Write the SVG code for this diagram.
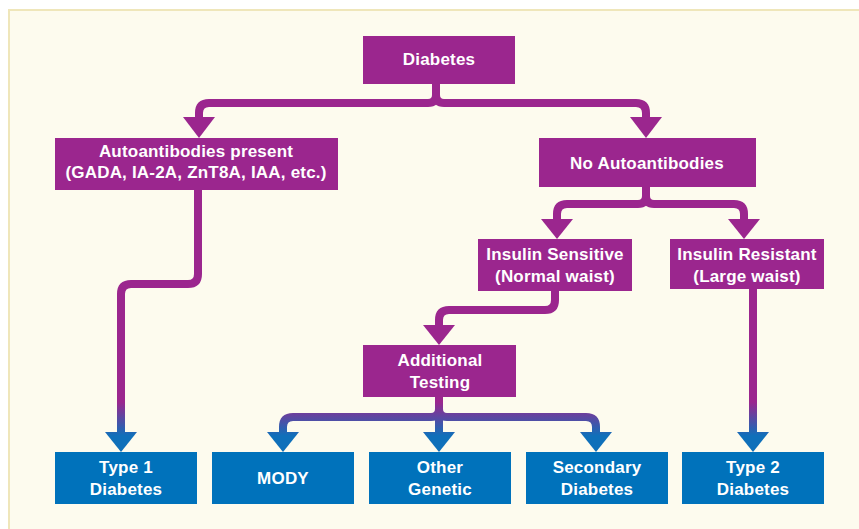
<svg xmlns="http://www.w3.org/2000/svg" width="859" height="529" viewBox="0 0 859 529">
  <defs>
    <linearGradient id="conn" gradientUnits="userSpaceOnUse" x1="0" y1="402" x2="0" y2="436">
      <stop offset="0" stop-color="#9B268E"/>
      <stop offset="1" stop-color="#0F70BA"/>
    </linearGradient>
  </defs>
  <style>
    .bg { fill: #FDFBEE; stroke: #EFE6BA; stroke-width: 2; }
    .p { fill: #9B268E; }
    .b { fill: #0072BB; }
    .t { font-family: "Liberation Sans", Arial, sans-serif; font-weight: bold; font-size: 17px; letter-spacing: 0.2px; fill: #FFFFFF; text-anchor: middle; }
    .ln { fill: none; stroke: url(#conn); stroke-width: 8; stroke-linejoin: round; }
    .ah { fill: url(#conn); }
  </style>
  <rect class="bg" x="9" y="10" width="860" height="530"/>

  <g id="connectors">
    <path class="ln" d="M436,84 V95 Q436,103 428,103 H209 Q199,103 199,113 V119"/>
    <path class="ln" d="M436,84 V95 Q436,103 444,103 H636 Q646,103 646,113 V119"/>
    <polygon class="ah" points="183,117 215,117 199,138"/>
    <polygon class="ah" points="630,117 662,117 646,138"/>

    <path class="ln" d="M198,190 V274 Q198,284 188,284 H131 Q121,284 121,294 V434"/>
    <polygon class="ah" points="105,432 137,432 121,452"/>

    <path class="ln" d="M646,187 V196 Q646,204 638,204 H567 Q557,204 557,214 V220"/>
    <path class="ln" d="M646,187 V196 Q646,204 654,204 H734 Q744,204 744,214 V220"/>
    <polygon class="ah" points="541,219 573,219 557,239"/>
    <polygon class="ah" points="728,219 760,219 744,239"/>

    <path class="ln" d="M555,291 V300 Q555,310 545,310 H449 Q439,310 439,320 V327"/>
    <polygon class="ah" points="423,325 455,325 439,345"/>

    <path class="ln" d="M439,397 V434"/>
    <path class="ln" d="M439,397 V409 Q439,417 431,417 H293 Q283,417 283,427 V434"/>
    <path class="ln" d="M439,397 V409 Q439,417 447,417 H586 Q596,417 596,427 V434"/>
    <polygon class="ah" points="267,432 299,432 283,452"/>
    <polygon class="ah" points="423,432 455,432 439,452"/>
    <polygon class="ah" points="580,432 612,432 596,452"/>

    <path class="ln" d="M753,289 V434"/>
    <polygon class="ah" points="737,432 769,432 753,452"/>
  </g>

  <g id="diabetes">
    <rect class="p" x="363" y="36" width="152" height="48"/>
    <text class="t" x="439" y="65">Diabetes</text>
  </g>
  <g id="autoantibodies">
    <rect class="p" x="55" y="138" width="283" height="52"/>
    <text class="t" x="196" y="157">Autoantibodies present</text>
    <text class="t" x="196" y="178">(GADA, IA-2A, ZnT8A, IAA, etc.)</text>
  </g>
  <g id="no-autoantibodies">
    <rect class="p" x="539" y="138" width="217" height="49"/>
    <text class="t" x="647" y="169">No Autoantibodies</text>
  </g>
  <g id="insulin-sensitive">
    <rect class="p" x="478" y="239" width="154" height="52"/>
    <text class="t" x="555" y="260">Insulin Sensitive</text>
    <text class="t" x="555" y="282">(Normal waist)</text>
  </g>
  <g id="insulin-resistant">
    <rect class="p" x="670" y="239" width="154" height="50"/>
    <text class="t" x="747" y="260">Insulin Resistant</text>
    <text class="t" x="747" y="282">(Large waist)</text>
  </g>
  <g id="additional-testing">
    <rect class="p" x="363" y="345" width="153" height="52"/>
    <text class="t" x="440" y="366">Additional</text>
    <text class="t" x="440" y="388">Testing</text>
  </g>
  <g id="type1">
    <rect class="b" x="55" y="452" width="142" height="52"/>
    <text class="t" x="126" y="473">Type 1</text>
    <text class="t" x="126" y="495">Diabetes</text>
  </g>
  <g id="mody">
    <rect class="b" x="212" y="452" width="142" height="52"/>
    <text class="t" x="283" y="484">MODY</text>
  </g>
  <g id="other-genetic">
    <rect class="b" x="369" y="452" width="142" height="52"/>
    <text class="t" x="440" y="473">Other</text>
    <text class="t" x="440" y="495">Genetic</text>
  </g>
  <g id="secondary">
    <rect class="b" x="526" y="452" width="142" height="52"/>
    <text class="t" x="597" y="473">Secondary</text>
    <text class="t" x="597" y="495">Diabetes</text>
  </g>
  <g id="type2">
    <rect class="b" x="682" y="452" width="142" height="52"/>
    <text class="t" x="753" y="473">Type 2</text>
    <text class="t" x="753" y="495">Diabetes</text>
  </g>
</svg>
